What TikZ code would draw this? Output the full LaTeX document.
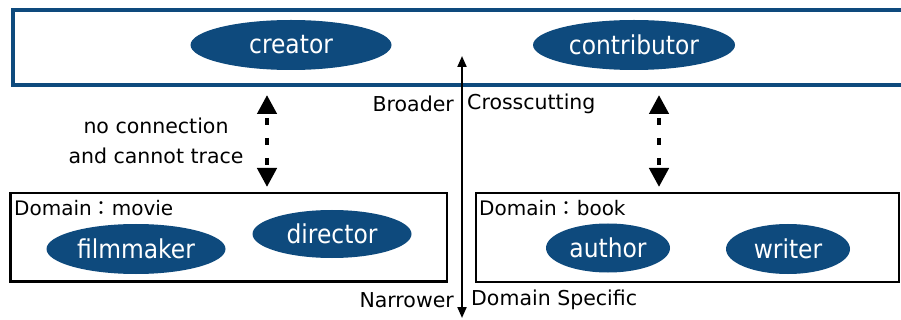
\documentclass[tikz,border=0pt]{standalone}
\usepackage{fontspec}
\setmainfont{DejaVu Sans}
\newfontfamily\cjk{Noto Sans CJK JP}
\newfontfamily\ovalfont{DejaVu Sans Condensed}
\usetikzlibrary{arrows.meta,shapes.geometric}
\definecolor{navy}{RGB}{14,74,125}
\tikzset{
  oval/.style={ellipse, fill=navy, draw=none, text=white, inner sep=0pt,
    font=\ovalfont\fontsize{26}{26}\selectfont},
  label/.style={inner sep=0pt, font=\fontsize{20.5}{20.5}\selectfont},
  domainlabel/.style={inner sep=0pt, font=\fontsize{20}{20}\selectfont},
  domainbox/.style={draw=black, line width=2.5pt},
  axis/.style={line width=2pt, {Triangle[length=11pt,width=9pt]}-{Triangle[length=11pt,width=9pt]}},
  gap/.style={line width=4.4pt, dash pattern=on 7pt off 13pt, dash phase=15pt,
    {Triangle[length=19pt,width=19pt]}-{Triangle[length=19pt,width=19pt]}}
}
\begin{document}
\begin{tikzpicture}[x=1pt,y=-1pt]
  \useasboundingbox (0,0) rectangle (901,320);
  \clip (0,0) rectangle (901,320);

  % general (crosscutting) layer
  \draw[navy, line width=4pt] (12.5,10.5) rectangle (920,85.5);
  \node[oval, minimum width=201pt, minimum height=50pt] (creator) at (291,45) {creator};
  \node[oval, minimum width=202pt, minimum height=50pt] (contributor) at (634,45) {contributor};

  % domain specific layers
  \draw[domainbox] (10.5,193) rectangle (447,281.5);
  \draw[domainbox] (476,193) rectangle (899,282);
  \node[domainlabel, anchor=west] (movie) at (14,208) {Domain{\cjk ：}movie};
  \node[domainlabel, anchor=west] (book) at (479,208) {Domain{\cjk ：}book};

  \node[oval, minimum width=179pt, minimum height=50pt] (filmmaker) at (136,249) {filmmaker};
  \node[oval, minimum width=159pt, minimum height=48pt] (director) at (332,234) {director};
  \node[oval, minimum width=124pt, minimum height=49pt] (author) at (608,248) {author};
  \node[oval, minimum width=124pt, minimum height=50pt] (writer) at (788,249) {writer};

  % broad / narrow axis
  \coordinate (axtop) at (462,56);
  \coordinate (axbot) at (462,318);
  \draw[axis] (axbot) -- (axtop);
  \node[label, anchor=east] (broader) at (454,104) {Broader};
  \node[label, anchor=west] (cross) at (467,104) {Crosscutting};
  \node[label, anchor=east] (narrower) at (454,300) {Narrower};
  \node[label, anchor=west] (specific) at (471,300) {Domain Specific};

  % untraceable links between layers
  \coordinate (la) at (267,95);
  \coordinate (lb) at (267,187);
  \coordinate (ra) at (659,95);
  \coordinate (rb) at (659,187);
  \draw[gap] (la) -- (lb);
  \draw[gap] (ra) -- (rb);
  \node[label] (noconn) at (156,126) {no connection};
  \node[label] (notrace) at (156,156) {and cannot trace};
\end{tikzpicture}
\end{document}
